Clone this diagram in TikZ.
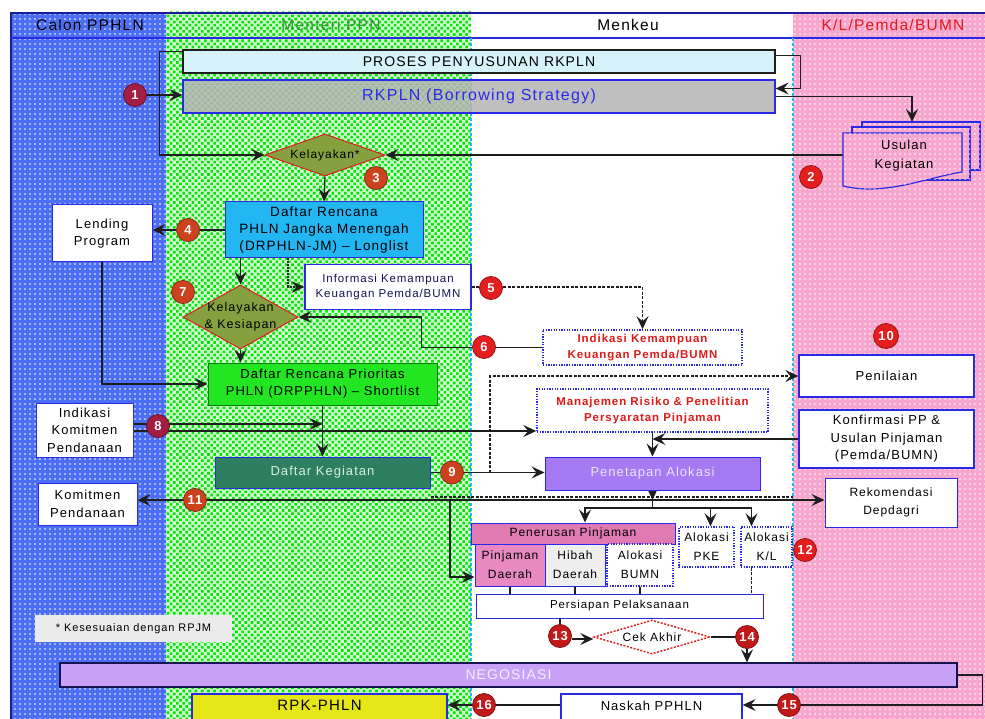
\documentclass[tikz,border=0pt]{standalone}
\usepackage{fontspec}
\setmainfont{Liberation Sans}
\newfontfamily\pix[LetterSpace=8]{Liberation Sans}
\usetikzlibrary{arrows.meta,shapes.geometric,patterns.meta}
\pgfdeclarelayer{lanes}
\pgfdeclarelayer{wires}
\pgfsetlayers{lanes,wires,main}
\newcommand{\fs}[2]{\pix\fontsize{#1}{#2}\selectfont}

\definecolor{laneBlue}{HTML}{4C6EF5}
\definecolor{lanePink}{HTML}{F7A6CD}
\definecolor{laneGreen}{HTML}{08E408}
\definecolor{laneGreenBase}{HTML}{D2FAD2}
\definecolor{frameBlue}{HTML}{1A1A9A}
\definecolor{boxBlue}{HTML}{2A2AE6}
\definecolor{cyanD}{HTML}{20B8F0}
\definecolor{wireC}{HTML}{1E1E1E}
\definecolor{procC}{HTML}{D6F2FA}
\definecolor{rkC}{HTML}{B4B4B4}
\definecolor{kelC}{HTML}{86A040}
\definecolor{drphlnC}{HTML}{22B6F2}
\definecolor{drpphlnC}{HTML}{22E622}
\definecolor{dkegC}{HTML}{2E7E62}
\definecolor{penetC}{HTML}{A57AF2}
\definecolor{penerC}{HTML}{E07AB2}
\definecolor{pinjdC}{HTML}{E889C2}
\definecolor{hibahC}{HTML}{EEEEEE}
\definecolor{negoC}{HTML}{C9A2F7}
\definecolor{rpkC}{HTML}{E6E617}
\definecolor{footC}{HTML}{EAEAEA}
\definecolor{redT}{HTML}{E01A1A}
\definecolor{mentC}{HTML}{3A8F3A}
\definecolor{numA}{HTML}{A31E42}
\definecolor{numB}{HTML}{CC421E}
\definecolor{numC}{HTML}{E41E1E}
\definecolor{navyT}{HTML}{141450}

\begin{document}
\begin{tikzpicture}[x=1pt,y=-1pt,
  box/.style={draw=boxBlue,line width=1pt,fill=white,align=center,inner sep=1pt,text=black},
  dotbox/.style={box,line width=1.6pt,dash pattern=on 1.3pt off 1.3pt},
  num/.style={circle,draw=#1!65!black,line width=0.8pt,fill=#1,text=white,
    font=\fs{13}{13}\bfseries,minimum size=23pt,inner sep=0pt},
  wire/.style={draw=wireC,line width=1.2pt},
  arr/.style={wire,-{Stealth[length=13pt,width=12pt,inset=5pt]}},
  heavy/.style={line width=1.8pt,dash pattern=on 3pt off 1.5pt},
  lbl/.style={inner sep=0pt,align=center},
  pinkdoc/.style={draw=boxBlue,line width=1.2pt,fill=lanePink,
    postaction={pattern={Dots[distance=5pt,radius=0.95pt]},pattern color=white}},
]
\useasboundingbox (0,0) rectangle (985,719);

% ---------- swimlanes ----------
\begin{pgfonlayer}{lanes}
  \fill[white] (0,0) rectangle (985,719);
  \fill[laneBlue] (10,12) rectangle (166,719);
  \fill[pattern={Dots[distance=5pt,radius=0.95pt]},pattern color=white] (10,12) rectangle (166,719);
  \fill[laneGreenBase] (166,12) rectangle (471,719);
  \fill[pattern={Dots[distance=4.4pt,angle=45,radius=1.85pt]},pattern color=laneGreen] (166,12) rectangle (471,719);
  \fill[lanePink] (793,12) rectangle (985,719);
  \fill[pattern={Dots[distance=5pt,radius=0.95pt]},pattern color=white] (793,12) rectangle (985,719);
  \draw[frameBlue,line width=2.2pt] (10,13) -- (985,13);
  \draw[frameBlue,line width=2pt] (11,12) -- (11,719);
  \draw[boxBlue,line width=1.2pt] (10,38) -- (985,38);
  \draw[cyanD,line width=1.6pt,dash pattern=on 3pt off 2pt] (471,38) -- (471,719) (793,38) -- (793,719);
\end{pgfonlayer}

% ---------- lane titles ----------
\node[lbl,font=\fs{15.5}{16}] (hCalon) at (90,25) {Calon PPHLN};
\node[lbl,font=\fs{15.5}{16},text=mentC] (hMenteri) at (331,25) {Menteri PPN};
\node[lbl,font=\fs{15.5}{16}] (hMenkeu) at (628,25) {Menkeu};
\node[lbl,font=\fs{15.5}{16},text=redT] (hKL) at (893,25) {K/L/Pemda/BUMN};

% ---------- planning ----------
\node[box,draw=wireC,line width=1.3pt,fill=procC,minimum width=592pt,minimum height=23pt,
  font=\fs{14}{16}] (proses) at (479,61.5) {PROSES PENYUSUNAN RKPLN};
\node[box,line width=1.3pt,fill=rkC,fill opacity=0.85,text opacity=1,text=boxBlue,
  minimum width=592pt,minimum height=33pt,font=\fs{16}{18}] (rkpln) at (479,96.5) {RKPLN (Borrowing Strategy)};

% stacked documents
\path[pinkdoc] (862,122) rectangle (980,170);
\path[pinkdoc] (852,127) rectangle (970,180);
\path[pinkdoc] (843,133) -- (962,133) -- (962,172) .. controls (925,178) and (885,196) .. (843,186) -- cycle;
\node[lbl,font=\fs{13}{19},minimum width=119pt,minimum height=53pt] (usulan) at (904,156) {Usulan\\Kegiatan};
\coordinate (usutop) at (912,122);

\node[diamond,draw=redT,line width=1pt,fill=kelC,minimum width=120pt,minimum height=42pt,inner sep=0pt] (kel1) at (325,155) {};
\node[lbl,font=\fs{12}{14}] (kel1t) at (kel1) {Kelayakan*};

\node[box,fill=drphlnC,minimum width=198pt,minimum height=56pt,font=\fs{13.5}{17}] (drphln) at (324,230)
  {Daftar Rencana\\PHLN Jangka Menengah\\(DRPHLN-JM) – Longlist};
\node[box,minimum width=100pt,minimum height=57pt,font=\fs{13}{17}] (lending) at (102,233.5) {Lending\\Program};
\node[box,line width=1.3pt,minimum width=166pt,minimum height=45pt,text=navyT,font=\fs{11.5}{15}] (info) at (388,287)
  {Informasi Kemampuan\\Keuangan Pemda/BUMN};

\node[diamond,draw=redT,line width=1pt,fill=kelC,minimum width=115pt,minimum height=64pt,inner sep=0pt] (kel2) at (240.5,317) {};
\node[lbl,font=\fs{12.5}{17}] (kel2t) at (kel2) {Kelayakan\\\& Kesiapan};

\node[dotbox,minimum width=199pt,minimum height=35pt,text=redT,font=\fs{11.5}{16}\bfseries] (indikasi) at (642.5,347.5)
  {Indikasi Kemampuan\\Keuangan Pemda/BUMN};

\node[box,draw=green!50!black,fill=drpphlnC,minimum width=229pt,minimum height=42pt,font=\fs{13}{17}] (drpphln) at (322.5,384)
  {Daftar Rencana Prioritas\\PHLN (DRPPHLN) – Shortlist};

\node[box,line width=1.3pt,minimum width=175pt,minimum height=42pt,font=\fs{13}{16}] (penilaian) at (886.5,376) {Penilaian};
\node[dotbox,minimum width=231pt,minimum height=43pt,text=redT,font=\fs{11.5}{16}\bfseries] (manajemen) at (652.5,410.5)
  {Manajemen Risiko \& Penelitian\\Persyaratan Pinjaman};
\node[box,line width=1.3pt,minimum width=175pt,minimum height=58pt,font=\fs{13}{17.5}] (konfirmasi) at (886.5,439)
  {Konfirmasi PP \&\\Usulan Pinjaman\\(Pemda/BUMN)};
\node[box,minimum width=97pt,minimum height=54pt,font=\fs{13}{17.5}] (indkom) at (84.5,430) {Indikasi\\Komitmen\\Pendanaan};

% ---------- allocation ----------
\node[box,fill=dkegC,text={rgb,255:red,216;green,240;blue,228},minimum width=215pt,minimum height=31pt,font=\fs{13}{16}] (dkeg) at (322.5,472.5) {Daftar Kegiatan};
\node[box,fill=penetC,text={rgb,255:red,236;green,226;blue,255},minimum width=215pt,minimum height=33pt,font=\fs{13}{16}] (penetapan) at (652.5,473.5) {Penetapan Alokasi};
\node[box,minimum width=99pt,minimum height=42pt,font=\fs{13}{18}] (komitmen) at (87.5,504) {Komitmen\\Pendanaan};
\node[box,minimum width=132pt,minimum height=49pt,font=\fs{12}{18}] (rekom) at (891,502.5) {Rekomendasi\\Depdagri};

\node[box,fill=penerC,minimum width=204pt,minimum height=21pt,font=\fs{12}{14}] (penerusan) at (573,533.5) {Penerusan Pinjaman};
\node[box,fill=pinjdC,minimum width=70pt,minimum height=42pt,font=\fs{12}{19}] (pinjd) at (510,565) {Pinjaman\\Daerah};
\node[box,fill=hibahC,minimum width=60pt,minimum height=42pt,font=\fs{12}{19}] (hibah) at (575,565) {Hibah\\Daerah};
\node[dotbox,line width=1.4pt,minimum width=66pt,minimum height=42pt,font=\fs{12}{19}] (abumn) at (640,565) {Alokasi\\BUMN};
\node[dotbox,line width=1.4pt,minimum width=55pt,minimum height=40pt,font=\fs{12}{19}] (apke) at (706.5,547) {Alokasi\\PKE};
\node[dotbox,line width=1.4pt,minimum width=51pt,minimum height=40pt,font=\fs{12}{19}] (akl) at (766.5,547) {Alokasi\\K/L};
\node[box,minimum width=287pt,minimum height=24pt,font=\fs{11.5}{14}] (persiapan) at (619.5,606) {Persiapan Pelaksanaan};

\node[diamond,draw=redT,line width=1.4pt,dash pattern=on 2pt off 1.5pt,fill=white,minimum width=116pt,minimum height=34pt,inner sep=0pt] (cek) at (652,637) {};
\node[lbl,font=\fs{12}{14}] (cekt) at (cek) {Cek Akhir};

\node[fill=footC,minimum width=197pt,minimum height=27pt,inner sep=0pt,font=\fs{11}{12}] (note) at (133.5,628.5) {* Kesesuaian dengan RPJM};

% ---------- negotiation ----------
\node[box,draw=navyT,line width=1.2pt,fill=negoC,text={rgb,255:red,244;green,238;blue,255},minimum width=897pt,minimum height=24pt,font=\fs{14}{16}] (negosiasi) at (508.5,675) {NEGOSIASI};
\node[box,line width=1.3pt,minimum width=181pt,minimum height=30pt,text depth=7pt,font=\fs{13}{16}] (naskah) at (651.5,709) {Naskah PPHLN};
\node[box,fill=rpkC,line width=1.3pt,minimum width=255pt,minimum height=30pt,text depth=7pt,font=\fs{15}{17}] (rpk) at (319.5,709) {RPK-PHLN};

% ---------- junction points ----------
\coordinate (j9) at (490,472.5);
\coordinate (busc) at (652.5,500);
\coordinate (br) at (652.5,508);
\coordinate (bl) at (450,500);

% ---------- step markers ----------
\node[num=numA] (c1) at (135,95) {1};
\node[num=numC] (c2) at (811,177) {2};
\node[num=numB] (c3) at (376,178) {3};
\node[num=numB] (c4) at (188,230) {4};
\node[num=numC] (c5) at (491,288) {5};
\node[num=numC] (c6) at (484,347) {6};
\node[num=numB] (c7) at (183,292) {7};
\node[num=numA] (c8) at (158,426) {8};
\node[num=numB] (c9) at (452,472.5) {9};
\node[num=numC,minimum size=25pt] (c10) at (886,336) {10};
\node[num=numB] (c11) at (195,500) {11};
\node[num=numC] (c12) at (805,550) {12};
\node[num=numC!85!black] (c13) at (560,636) {13};
\node[num=numC!85!black] (c14) at (747,637) {14};
\node[num=numC!85!black] (c15) at (789,705) {15};
\node[num=numC!85!black] (c16) at (484,705) {16};

% ---------- connectors ----------
\begin{pgfonlayer}{wires}
  \draw[arr] ([yshift=-2pt]proses.north west) -- ++(-23,0) |- (kel1.west);
  \draw[arr] (c1) -- (c1 -| rkpln.west);
  \draw[arr] ([yshift=6pt]proses.east) -- ++(25,0) |- ([yshift=8pt]rkpln.east);
  \draw[arr] (rkpln.east) -| (usutop);
  \draw[arr] (usulan.west |- kel1.east) -- (kel1.east);
  \draw[arr] (kel1.south) -- (drphln.north);
  \draw[arr] (drphln.west) -- (drphln.west -| lending.east);
  \draw[arr] (lending.south) |- (drpphln.west);
  \draw[arr] (drphln.south -| kel2.north) -- (kel2.north);
  \draw[arr,dash pattern=on 2pt off 1pt] ([xshift=-36pt]drphln.south) |- (info.west);
  \draw[arr,heavy] (info.east) -| (indikasi.north);
  \draw[arr] (indikasi.west) -- ++(-121,0) |- (kel2.east);
  \draw[arr] (kel2.south) -- (drpphln.north -| kel2.south);
  \draw[arr] (drpphln.south) -- (dkeg.north);
  \draw[arr] ([yshift=6pt]indkom.east) -- ([yshift=6pt]indkom.east -| drpphln.south);
  \draw[arr] ([yshift=-1pt]indkom.east) -- ([yshift=-1pt]indkom.east -| manajemen.west);
  \draw[arr] (dkeg.east) -- (dkeg.east -| penetapan.west);
  \draw[arr,heavy] (j9) |- (penilaian.west);
  \draw[arr] (manajemen.south) -- (penetapan.north);
  \draw[arr] (konfirmasi.west) -- (konfirmasi.west -| manajemen.south);
  \draw[arr] (penetapan.south) -- (busc);
  \draw[wire] (busc) -- (br);
  \draw[arr] (busc) -- (busc -| komitmen.east);
  \draw[arr] (busc) -- (busc -| rekom.west);
  \draw[wire,heavy] ([yshift=3pt]bl -| dkeg.east) -- ([yshift=3pt]busc -| akl.east);
  \draw[arr] (br) -| ([xshift=12pt]penerusan.north);
  \draw[arr] (br) -| ([xshift=4pt]apke.north);
  \draw[arr] (br) -| ([xshift=-15pt]akl.north);
  \draw[arr] (bl) |- ([yshift=-12pt]pinjd.west);
  \draw[wire] (pinjd.south) -- (pinjd.south |- persiapan.north);
  \draw[wire] (hibah.south) -- (hibah.south |- persiapan.north);
  \draw[wire] (abumn.south) -- (abumn.south |- persiapan.north);
  \draw[wire,heavy] ([xshift=-15pt]akl.south) -- ([xshift=-15pt]akl.south |- persiapan.north);
  \draw[wire] (c13 |- persiapan.south) -- (c13);
  \draw[arr] ([yshift=-3pt]c13.east) -- ([yshift=-3pt]c13.east -| cek.west);
  \draw[wire] (cek.east) -- (cek.east -| c14);
  \draw[arr] (c14) -- (c14 |- negosiasi.north);
  \draw[arr] (negosiasi.east) -- ++(25,0) |- (naskah.east |- c15);
  \draw[arr] (naskah.west |- c16) -- (c16 -| rpk.east);
\end{pgfonlayer}
\end{tikzpicture}
\end{document}
